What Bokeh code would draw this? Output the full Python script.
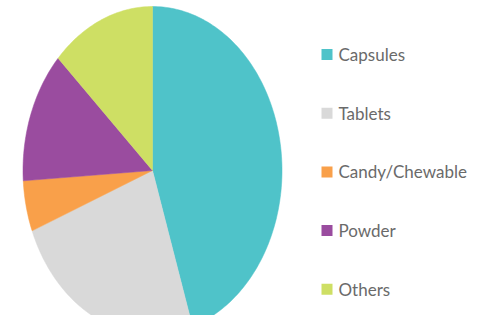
import math
from bokeh.plotting import figure
from bokeh.models import Range1d, ColumnDataSource
from bokeh.core.properties import value
from bokeh.embed import file_html
from bokeh.resources import INLINE

categories = ["Capsules", "Tablets", "Candy/Chewable", "Powder", "Others"]
shares = [45, 24, 5, 13, 13]
colors = ["#4FC3C9", "#D9D9D9", "#F9A04A", "#9A4C9F", "#CEDF64"]

W, H = 467, 315
p = figure(width=W, height=H, output_backend="svg", toolbar_location=None,
           x_range=Range1d(0, W), y_range=Range1d(0, H), min_border=0)
p.axis.visible = False
p.grid.visible = False
p.outline_line_color = None

cx, cy = 152, H - 170
rx, ry = 129.5, 164
total = sum(shares)
xs, ys = [], []
start = 0.0
for s in shares:
    a0 = start / total * 2 * math.pi
    a1 = (start + s) / total * 2 * math.pi
    n = max(4, int(s * 3))
    px = [cx]
    py = [cy]
    for i in range(n + 1):
        a = a0 + (a1 - a0) * i / n
        px.append(cx + rx * math.sin(a))
        py.append(cy + ry * math.cos(a))
    xs.append(px)
    ys.append(py)
    start += s

p.patches(xs="xs", ys="ys", fill_color="color", line_color="color", line_width=0.5,
          source=ColumnDataSource(dict(xs=xs, ys=ys, color=colors)))

ly = [H - (54 + 58.7 * i) for i in range(len(categories))]
p.scatter(x=[326.5] * len(categories), y=ly, marker="square", size=11,
          fill_color=colors, line_color=None)
p.text(x=[338] * len(categories), y=ly, text=categories,
       text_font=value("Lato"), text_font_size="17px", text_color="#6a6a6a",
       text_baseline="middle", text_align="left")

open("out.html", "w").write(file_html(p, INLINE))
